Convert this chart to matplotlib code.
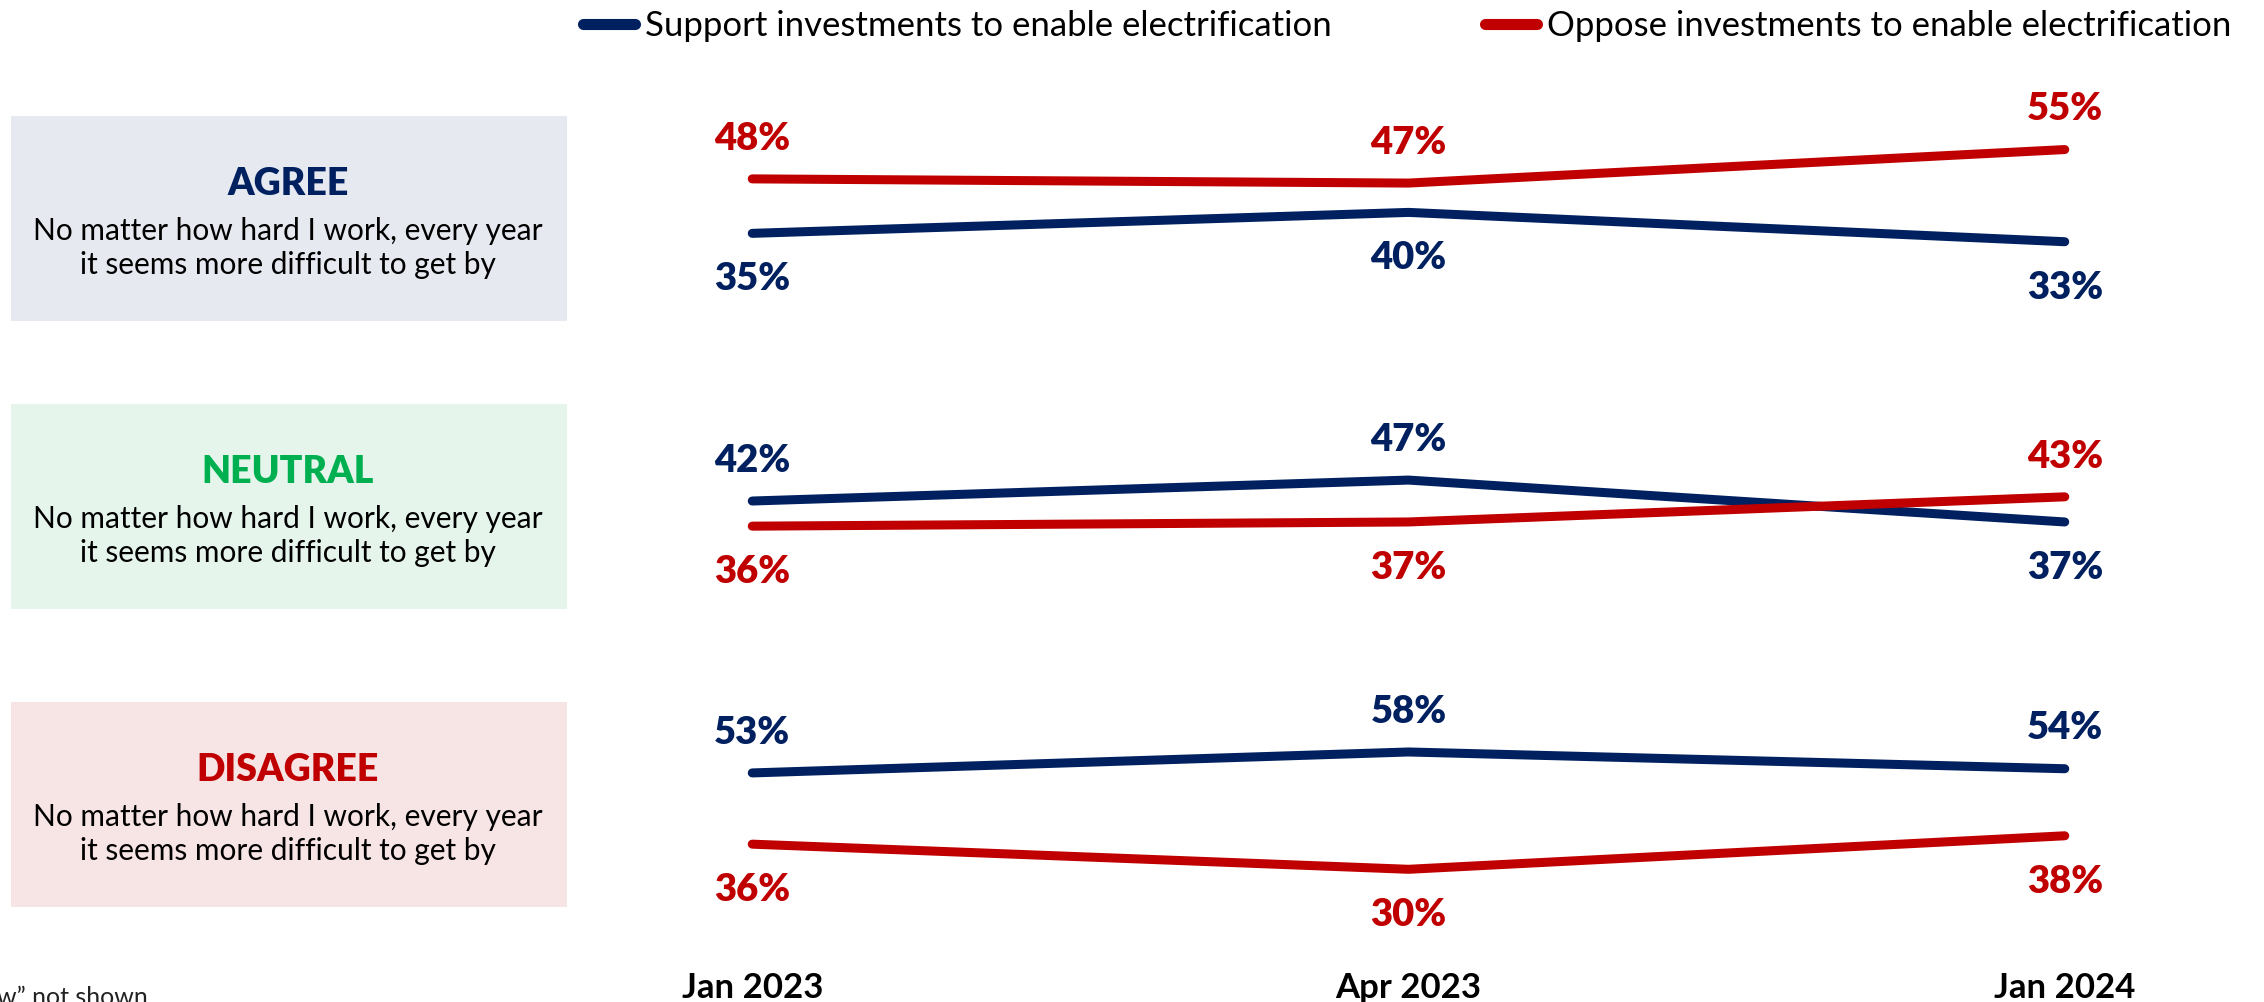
import matplotlib.pyplot as plt
from matplotlib import font_manager
from matplotlib.patches import Rectangle
from matplotlib.lines import Line2D

# data
periods = ['Jan 2023', 'Apr 2023', 'Jan 2024']
panels = ['AGREE', 'NEUTRAL', 'DISAGREE']
statement = 'No matter how hard I work, every year\nit seems more difficult to get by'
support = [[35, 40, 33], [42, 47, 37], [53, 58, 54]]
oppose = [[48, 47, 55], [36, 37, 43], [36, 30, 38]]
legend_labels = ['Support investments to enable electrification',
                 'Oppose investments to enable electrification']
footnote = 'w\u201d not shown'

# styling
navy = '#002060'
red = '#C00000'
title_colors = [navy, '#00B050', red]
box_colors = ['#E6E9F0', '#E5F5EC', '#F7E4E4']
# label above (+1) or below (-1) the line, per point
support_side = [[-1, -1, -1], [1, 1, -1], [1, 1, 1]]
oppose_side = [[1, 1, 1], [-1, -1, 1], [-1, -1, -1]]

names = {f.name for f in font_manager.fontManager.ttflist}
main_font = 'Lato' if 'Lato' in names else 'DejaVu Sans'
plt.rcParams['font.family'] = [main_font, 'DejaVu Sans']

W, H = 2264, 1002
fig = plt.figure(figsize=(W / 100, H / 100), dpi=100)

def fx(px):
    return px / W

def fy(py):
    return 1 - py / H

# pixel layout of each panel (top pixel of box, zero-line pixel of the value scale)
box_tops = [116, 404, 702]
box_h = 205
zero_px = [380, 677, 995]
ax_bands = [(50, 345), (350, 650), (655, 960)]
px_per_pt = 4.19
x_left, x_right = 621, 2196

for i, name in enumerate(panels):
    # label box on the left
    fig.patches.append(Rectangle((fx(11), fy(box_tops[i] + box_h)), fx(556), box_h / H,
                                 transform=fig.transFigure, facecolor=box_colors[i],
                                 edgecolor='none', zorder=0))
    fig.text(fx(288), fy(box_tops[i] + 68), name, ha='center', va='center',
             fontsize=27, fontweight='heavy', color=title_colors[i])
    fig.text(fx(288), fy(box_tops[i] + 132), statement, ha='center', va='center',
             fontsize=21.5, color='black', linespacing=1.25)

    top, bot = ax_bands[i]
    ax = fig.add_axes([fx(x_left), fy(bot), fx(x_right - x_left), (bot - top) / H])
    ax.set_xlim(-0.2, 2.2)
    ax.set_ylim((zero_px[i] - bot) / px_per_pt, (zero_px[i] - top) / px_per_pt)
    x = range(len(periods))
    ax.plot(x, support[i], color=navy, lw=6.5, solid_capstyle='round', solid_joinstyle='round')
    ax.plot(x, oppose[i], color=red, lw=6.5, solid_capstyle='round', solid_joinstyle='round')
    for series, sides, col in [(support[i], support_side[i], navy), (oppose[i], oppose_side[i], red)]:
        for j, v in enumerate(series):
            off = 29 if sides[j] > 0 else -33
            ax.annotate(f'{v}%', (j, v), xytext=(0, off), textcoords='offset points',
                        ha='center', va='center', fontsize=27.5, fontweight='heavy',
                        color=col, annotation_clip=False)
    for s in ax.spines.values():
        s.set_visible(False)
    ax.set_yticks([])
    ax.patch.set_alpha(0)
    if i == len(panels) - 1:
        ax.set_xticks(list(x), periods)
        ax.tick_params(axis='x', length=0, pad=9)
        for t in ax.get_xticklabels():
            t.set_fontweight('bold')
            t.set_fontsize(25)
            t.set_va('top')
    else:
        ax.set_xticks([])

handles = [Line2D([], [], color=navy, lw=8, solid_capstyle='round'),
           Line2D([], [], color=red, lw=8, solid_capstyle='round')]
fig.legend(handles, legend_labels, ncol=2, loc='center', bbox_to_anchor=(fx(1407), fy(26)),
           frameon=False, fontsize=25, handlelength=1.5, handletextpad=0.3,
           columnspacing=4.4, borderpad=0)

fig.text(fx(-3), fy(986), footnote, ha='left', va='top', fontsize=18, color='#222222')

fig.savefig('out.png', dpi=100)
